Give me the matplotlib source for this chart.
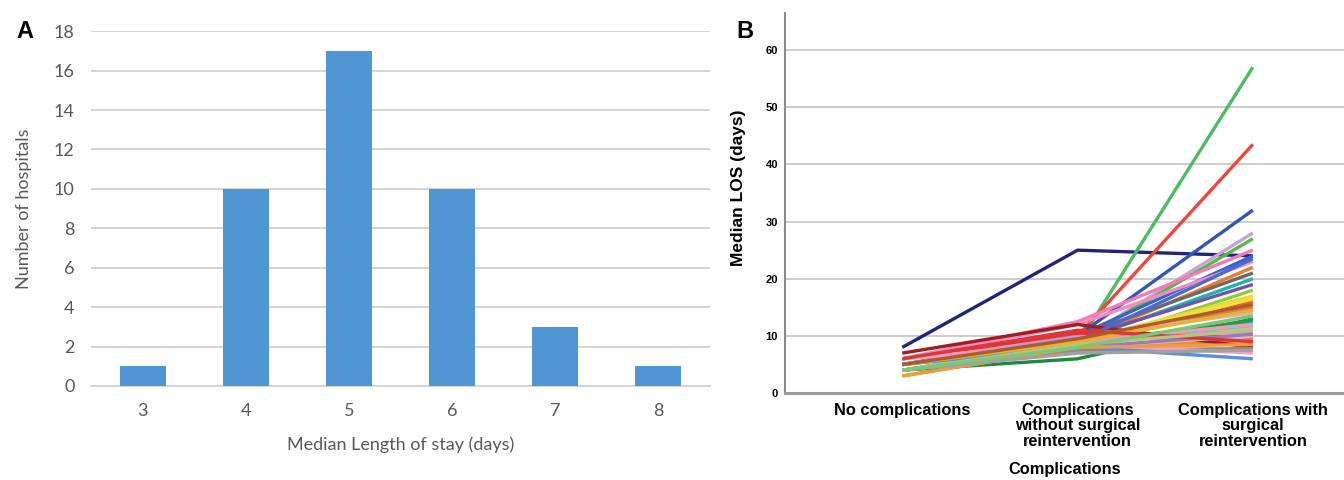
import numpy as np
import matplotlib.pyplot as plt

# Panel A: distribution of median LOS across hospitals
los_days = [3, 4, 5, 6, 7, 8]
n_hospitals = [1, 10, 17, 10, 3, 1]

# Panel B: median LOS per hospital by complication group
groups = ['No complications',
          'Complications\nwithout surgical\nreintervention',
          'Complications with\nsurgical\nreintervention']
los_none = [8, 5, 6, 5, 4, 5, 6, 5, 6, 4, 5, 5, 5, 4, 5, 4, 5, 6, 4, 5, 4,
            5, 6, 3, 7, 4, 6, 5, 5, 4, 4, 5, 5, 4, 3, 4, 6, 5, 6, 4, 4, 5]
los_no_surg = [25, 8.5, 10, 10, 9, 9, 12.5, 10, 12, 9, 10, 9, 9.5, 8, 9, 8, 9, 10, 6, 9, 9,
               10, 10.5, 8, 12, 7.5, 8.5, 8, 9, 8, 8, 9, 9, 8, 8, 7, 9, 9, 11, 8.5, 8, 9.5]
los_surg = [24, 57, 43.5, 32, 28, 27, 25, 24, 23, 22, 21, 20, 19, 18, 17, 16, 15, 14, 13, 12.3, 11.5,
            10.7, 9.8, 9.2, 8, 7.8, 7, 6, 16.5, 12.8, 10, 11.8, 23.5, 10.3, 8.5, 7.5, 12, 14.5, 9, 11, 13.5, 15.5]
line_colors = ['#23237a', '#4cbb62', '#f0463c', '#3554b8', '#c6a4d8', '#58b848', '#f27ab6',
               '#3a62cc', '#f08cc0', '#f07a2a', '#6a6a6a', '#1db4a8', '#7650b0', '#8ccc3c',
               '#e6dc2a', '#e8682e', '#d28050', '#f0a8cc', '#1e8a3c', '#22b4b8', '#c8c88e',
               '#b89ad8', '#e83030', '#f08a28', '#a01e1e', '#8a8a8a', '#f4a0c8', '#5a90dc',
               '#f0e040', '#2a9a48', '#d8c8a0', '#5ccccc', '#4a6ad0', '#9a78c8', '#f09a40',
               '#a0a0a0', '#f49ab8', '#e6b42a', '#d83838', '#c0c07a', '#78c878', '#b05a2a']

light_font = ['Lato', 'DejaVu Sans']
bold_font = ['Liberation Sans', 'DejaVu Sans']

fig = plt.figure(figsize=(13.44, 4.8), dpi=100)

# ---- Panel A ----
ax1 = fig.add_axes([0.068, 0.196, 0.460, 0.739])
ax1.bar(los_days, n_hospitals, width=0.45, color='#5096d2', zorder=3)
ax1.set_xlim(2.5, 8.5)
ax1.set_ylim(0, 18)
ax1.set_yticks(range(0, 19, 2))
ax1.set_xticks(los_days)
ax1.yaxis.grid(True, color='#d4d4d4', linewidth=1.4, zorder=0)
for s in ['top', 'right', 'left']:
    ax1.spines[s].set_visible(False)
ax1.spines['bottom'].set_color('#d4d4d4')
ax1.spines['bottom'].set_linewidth(1.4)
ax1.tick_params(length=0, labelsize=13, labelcolor='#595959', pad=12)
for lab in ax1.get_xticklabels() + ax1.get_yticklabels():
    lab.set_family(light_font)
ax1.set_xlabel('Median Length of stay (days)', fontsize=13, color='#595959',
               labelpad=13, family=light_font)
ax1.set_ylabel('Number of hospitals', fontsize=13, color='#595959',
               labelpad=16, family=light_font)
fig.text(0.012, 0.935, 'A', fontsize=17, fontweight='bold', va='center',
         family=bold_font)

# ---- Panel B ----
ax2 = fig.add_axes([0.584, 0.181, 0.416, 0.791])
xpos = np.arange(len(groups))
for a, b, c, col in zip(los_none, los_no_surg, los_surg, line_colors):
    ax2.plot(xpos, [a, b, c], color=col, linewidth=2.4, solid_capstyle='butt', zorder=3)
ax2.set_xlim(-0.67, 2.52)
ax2.set_ylim(0, 66.4)
ax2.set_yticks(range(0, 61, 10))
ax2.set_xticks(xpos)
ax2.set_xticklabels(groups, fontsize=11.8, fontweight='bold', linespacing=1.05,
                    family=bold_font)
ax2.yaxis.grid(True, color='#c8c8c8', linewidth=1.3, zorder=0)
for s in ['top', 'right']:
    ax2.spines[s].set_visible(False)
ax2.spines['left'].set_color('#8c8c8c')
ax2.spines['left'].set_linewidth(1.5)
ax2.spines['bottom'].set_color('#999999')
ax2.spines['bottom'].set_linewidth(2.2)
ax2.tick_params(axis='y', length=0, labelsize=8, pad=5)
ax2.tick_params(axis='x', length=0, pad=7)
for lab in ax2.get_yticklabels():
    lab.set_fontweight('bold')
    lab.set_family(bold_font)
ax2.set_xlabel('Complications', fontsize=11.8, fontweight='bold', labelpad=9,
               family=bold_font)
ax2.set_ylabel('Median LOS (days)', fontsize=12.5, fontweight='bold', labelpad=9,
               family=bold_font)
ax2.yaxis.set_label_coords(-0.07, 0.54)
fig.text(0.548, 0.935, 'B', fontsize=17, fontweight='bold', va='center',
         family=bold_font)

fig.savefig('out.png', dpi=100)
